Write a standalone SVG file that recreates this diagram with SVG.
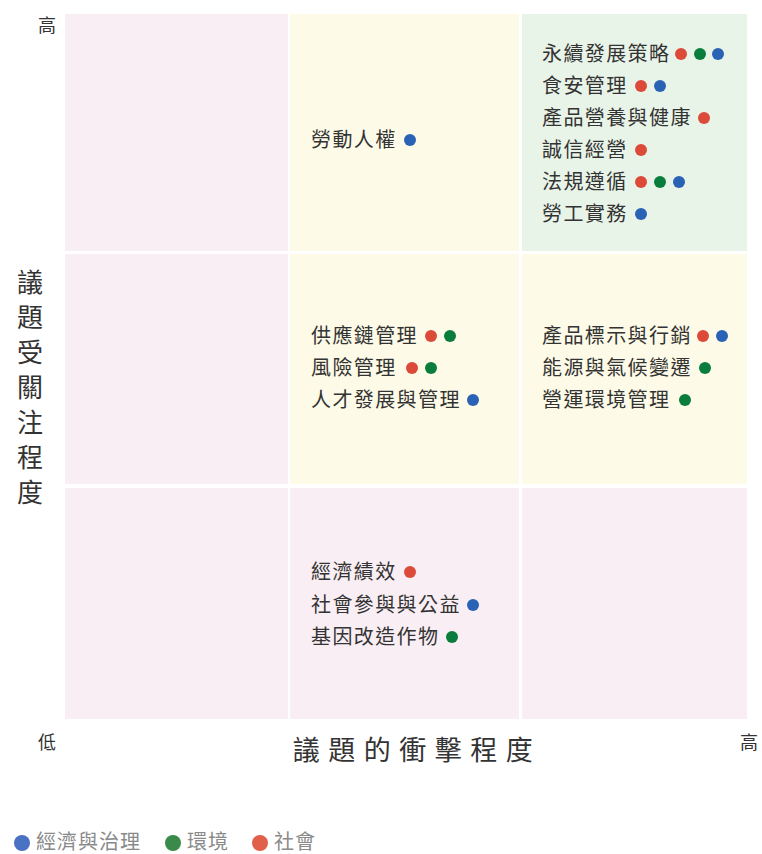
<svg xmlns="http://www.w3.org/2000/svg" width="762" height="854" viewBox="0 0 762 854">
<style>
.t{font-family:"Noto Sans CJK TC","Noto Sans CJK SC",sans-serif;font-size:20px;fill:#333;letter-spacing:1.4px}
.ax{font-family:"Noto Sans CJK TC","Noto Sans CJK SC",sans-serif;fill:#333}
.lg{font-family:"Noto Sans CJK TC","Noto Sans CJK SC",sans-serif;font-size:20px;fill:#8a8a8a;letter-spacing:1px}
.pk{fill:#f9eef4}.yw{fill:#fdfbe8}.gn{fill:#e9f4e9}
.r{fill:#dc4b3a}.g{fill:#0a7d3c}.b{fill:#2a63b5}
</style>
<rect width="762" height="854" fill="#fff"/>
<g id="grid">
<rect class="pk" x="65" y="14" width="223" height="237"/>
<rect class="yw" x="290" y="14" width="229" height="237"/>
<rect class="gn" x="522" y="14" width="225" height="237"/>
<rect class="pk" x="65" y="254" width="223" height="230"/>
<rect class="yw" x="290" y="254" width="229" height="230"/>
<rect class="yw" x="522" y="254" width="225" height="230"/>
<rect class="pk" x="65" y="488" width="223" height="231"/>
<rect class="pk" x="290" y="488" width="229" height="231"/>
<rect class="pk" x="522" y="488" width="225" height="231"/>
</g>
<g id="axes">
<text class="ax" x="47" y="32" font-size="18" text-anchor="middle">高</text>
<text class="ax" x="47" y="749" font-size="18" text-anchor="middle">低</text>
<text class="ax" x="749" y="749" font-size="18" text-anchor="middle">高</text>
<text class="ax" x="417" y="760" font-size="27" letter-spacing="8.5" text-anchor="middle">議題的衝擊程度</text>
<g font-size="26" text-anchor="middle">
<text class="ax" x="30" y="292">議</text>
<text class="ax" x="30" y="327">題</text>
<text class="ax" x="30" y="362">受</text>
<text class="ax" x="30" y="397">關</text>
<text class="ax" x="30" y="432">注</text>
<text class="ax" x="30" y="467">程</text>
<text class="ax" x="30" y="502">度</text>
</g>
</g>
<g id="cell-high-high">
<text class="t" x="542" y="61">永續發展策略</text>
<circle class="r" cx="681" cy="54" r="6"/><circle class="g" cx="700" cy="54" r="6"/><circle class="b" cx="718" cy="54" r="6"/>
<text class="t" x="542" y="93">食安管理</text>
<circle class="r" cx="641" cy="86" r="6"/><circle class="b" cx="660" cy="86" r="6"/>
<text class="t" x="542" y="125">產品營養與健康</text>
<circle class="r" cx="704" cy="118" r="6"/>
<text class="t" x="542" y="157">誠信經營</text>
<circle class="r" cx="641" cy="150" r="6"/>
<text class="t" x="542" y="189">法規遵循</text>
<circle class="r" cx="641" cy="182" r="6"/><circle class="g" cx="660" cy="182" r="6"/><circle class="b" cx="679" cy="182" r="6"/>
<text class="t" x="542" y="221">勞工實務</text>
<circle class="b" cx="641" cy="214" r="6"/>
</g>
<g id="cell-mid-high">
<text class="t" x="311" y="147">勞動人權</text>
<circle class="b" cx="410" cy="140" r="6"/>
</g>
<g id="cell-mid-mid">
<text class="t" x="311" y="343">供應鏈管理</text>
<circle class="r" cx="431" cy="336" r="6"/><circle class="g" cx="450" cy="336" r="6"/>
<text class="t" x="311" y="375">風險管理</text>
<circle class="r" cx="412" cy="368" r="6"/><circle class="g" cx="431" cy="368" r="6"/>
<text class="t" x="311" y="407">人才發展與管理</text>
<circle class="b" cx="473" cy="400" r="6"/>
</g>
<g id="cell-high-mid">
<text class="t" x="542" y="343">產品標示與行銷</text>
<circle class="r" cx="703" cy="336" r="6"/><circle class="b" cx="722" cy="336" r="6"/>
<text class="t" x="542" y="375">能源與氣候變遷</text>
<circle class="g" cx="705" cy="368" r="6"/>
<text class="t" x="542" y="407">營運環境管理</text>
<circle class="g" cx="685" cy="400" r="6"/>
</g>
<g id="cell-mid-low">
<text class="t" x="311" y="579">經濟績效</text>
<circle class="r" cx="410" cy="572" r="6"/>
<text class="t" x="311" y="612">社會參與與公益</text>
<circle class="b" cx="473" cy="605" r="6"/>
<text class="t" x="311" y="644">基因改造作物</text>
<circle class="g" cx="452" cy="637" r="6"/>
</g>
<g id="legend">
<circle cx="22" cy="843" r="8" fill="#4a72c4"/>
<text class="lg" x="36" y="849">經濟與治理</text>
<circle cx="173" cy="843" r="8" fill="#3a8a4a"/>
<text class="lg" x="187" y="849">環境</text>
<circle cx="260" cy="843" r="8" fill="#e0604a"/>
<text class="lg" x="274" y="849">社會</text>
</g>
</svg>
